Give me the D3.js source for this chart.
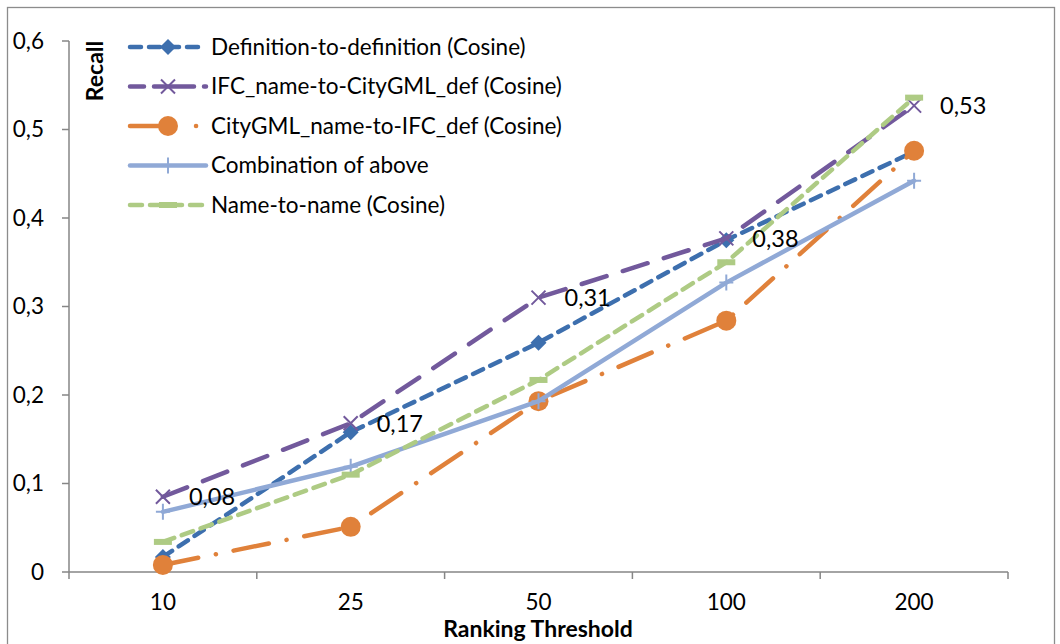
<!DOCTYPE html>
<html>
<head>
<meta charset="utf-8">
<script src="https://cdn.jsdelivr.net/npm/d3@7"></script>
<style>
  body { margin: 0; background: #fff; }
  svg { display: block; font-family: Lato, "Open Sans", sans-serif; }
</style>
</head>
<body>
<svg width="1060" height="644"></svg>
<script>
// data
const thresholds = ["10", "25", "50", "100", "200"]
const yTicks = [0, 0.1, 0.2, 0.3, 0.4, 0.5, 0.6]
const seriesNames = [
  "Definition-to-definition (Cosine)",
  "IFC_name-to-CityGML_def (Cosine)",
  "CityGML_name-to-IFC_def (Cosine)",
  "Combination of above",
  "Name-to-name (Cosine)"
]
const defToDef = [0.017, 0.158, 0.259, 0.375, 0.475]
const ifcToCity = [0.085, 0.168, 0.310, 0.377, 0.527]
const cityToIfc = [0.008, 0.051, 0.193, 0.284, 0.476]
const combination = [0.068, 0.119, 0.193, 0.327, 0.442]
const nameToName = [0.034, 0.110, 0.217, 0.350, 0.536]
const labelValues = ["0,08", "0,17", "0,31", "0,38", "0,53"]   // shown on IFC series

const styles = [
  {color: "#3d6fae", dash: "11 8", legendDash: "11 8", marker: "diamond"},
  {color: "#72599c", dash: "26 17", legendDash: "14 10 40 10", marker: "cross"},
  {color: "#e0813a", dash: "36 18 0.1 18", legendDash: "44 22 0.1 40", marker: "circle"},
  {color: "#90a9d6", dash: null, legendDash: null, marker: "plus"},
  {color: "#aecb84", dash: "12 8", legendDash: "12 8", marker: "bar"}
]
const allSeries = [defToDef, ifcToCity, cityToIfc, combination, nameToName]

const svg = d3.select("svg")

// outer frame
svg.append("rect").attr("x", 7.5).attr("y", 7.5).attr("width", 1047).attr("height", 660)
  .attr("fill", "none").attr("stroke", "#8c8c8c").attr("stroke-width", 1.3)

const x = d3.scaleBand().domain(thresholds).range([69, 1008]).padding(0)
const y = d3.scaleLinear().domain([0, 0.6]).range([572, 41])
const cx = d => x(d) + x.bandwidth() / 2

const axisColor = "#868686"

// y axis
svg.append("line").attr("x1", 69).attr("x2", 69).attr("y1", y(0.6)).attr("y2", y(0))
  .attr("stroke", axisColor).attr("stroke-width", 1.5)
svg.selectAll(".ytick").data(yTicks).enter().append("line")
  .attr("x1", 62).attr("x2", 69).attr("y1", d => y(d)).attr("y2", d => y(d))
  .attr("stroke", axisColor).attr("stroke-width", 1.5)
svg.selectAll(".ylab").data(yTicks).enter().append("text")
  .attr("x", 44).attr("y", d => y(d)).attr("dy", "0.35em").attr("text-anchor", "end")
  .attr("font-size", 22.5).attr("fill", "#000")
  .text(d => d === 0 ? "0" : d3.format(".1f")(d).replace(".", ","))

// x axis
svg.append("line").attr("x1", 69).attr("x2", 1008).attr("y1", y(0)).attr("y2", y(0))
  .attr("stroke", axisColor).attr("stroke-width", 1.5)
const edges = thresholds.map(d => x(d)).concat([x(thresholds[thresholds.length - 1]) + x.bandwidth()])
svg.selectAll(".xtick").data(edges).enter().append("line")
  .attr("x1", d => d).attr("x2", d => d).attr("y1", y(0)).attr("y2", y(0) + 7)
  .attr("stroke", axisColor).attr("stroke-width", 1.5)
svg.selectAll(".xlab").data(thresholds).enter().append("text")
  .attr("x", d => cx(d)).attr("y", 610).attr("text-anchor", "middle")
  .attr("font-size", 22.5).text(d => d)

// axis titles
svg.append("text").attr("x", 538).attr("y", 637).attr("text-anchor", "middle")
  .attr("font-size", 23).attr("font-weight", "bold").text("Ranking Threshold")
svg.append("text").attr("transform", "translate(103,71) rotate(-90)")
  .attr("text-anchor", "middle").attr("font-size", 23).attr("font-weight", "bold").text("Recall")

// markers
function drawMarker(g, type, color, px, py) {
  if (type === "diamond") {
    g.append("path").attr("d", `M${px},${py - 8}L${px + 8},${py}L${px},${py + 8}L${px - 8},${py}Z`)
      .attr("fill", color)
  } else if (type === "cross") {
    g.append("path").attr("d", `M${px - 7},${py - 7}L${px + 7},${py + 7}M${px - 7},${py + 7}L${px + 7},${py - 7}`)
      .attr("stroke", color).attr("stroke-width", 2).attr("fill", "none")
  } else if (type === "circle") {
    g.append("circle").attr("cx", px).attr("cy", py).attr("r", 10).attr("fill", color)
  } else if (type === "plus") {
    g.append("path").attr("d", `M${px - 7},${py}L${px + 7},${py}M${px},${py - 8}L${px},${py + 8}`)
      .attr("stroke", color).attr("stroke-width", 2).attr("fill", "none")
  } else if (type === "bar") {
    g.append("rect").attr("x", px - 9).attr("y", py - 3).attr("width", 18).attr("height", 6)
      .attr("fill", color)
  }
}

const line = d3.line().x((d, i) => cx(thresholds[i])).y(d => y(d))

allSeries.forEach((vals, k) => {
  const st = styles[k]
  const g = svg.append("g")
  g.append("path").datum(vals).attr("d", line)
    .attr("fill", "none").attr("stroke", st.color).attr("stroke-width", 4.5)
    .attr("stroke-linecap", "round").attr("stroke-linejoin", "round")
    .attr("stroke-dasharray", st.dash)
  vals.forEach((v, i) => drawMarker(g, st.marker, st.color, cx(thresholds[i]), y(v)))
})

// data labels for IFC series
svg.selectAll(".dlab").data(ifcToCity).enter().append("text")
  .attr("x", (d, i) => cx(thresholds[i]) + 26).attr("y", d => y(d)).attr("dy", "0.35em")
  .attr("font-size", 23.5).text((d, i) => labelValues[i])

// legend
const legend = svg.append("g")
seriesNames.forEach((name, k) => {
  const st = styles[k]
  const ly = 47 + k * 39.5
  legend.append("line").attr("x1", 130).attr("x2", 206).attr("y1", ly).attr("y2", ly)
    .attr("stroke", st.color).attr("stroke-width", 4.5).attr("stroke-linecap", "round")
    .attr("stroke-dasharray", st.legendDash)
  drawMarker(legend, st.marker, st.color, 168, ly)
  legend.append("text").attr("x", 211).attr("y", ly).attr("dy", "0.35em")
    .attr("font-size", 22.5).text(name)
})
</script>
</body>
</html>
